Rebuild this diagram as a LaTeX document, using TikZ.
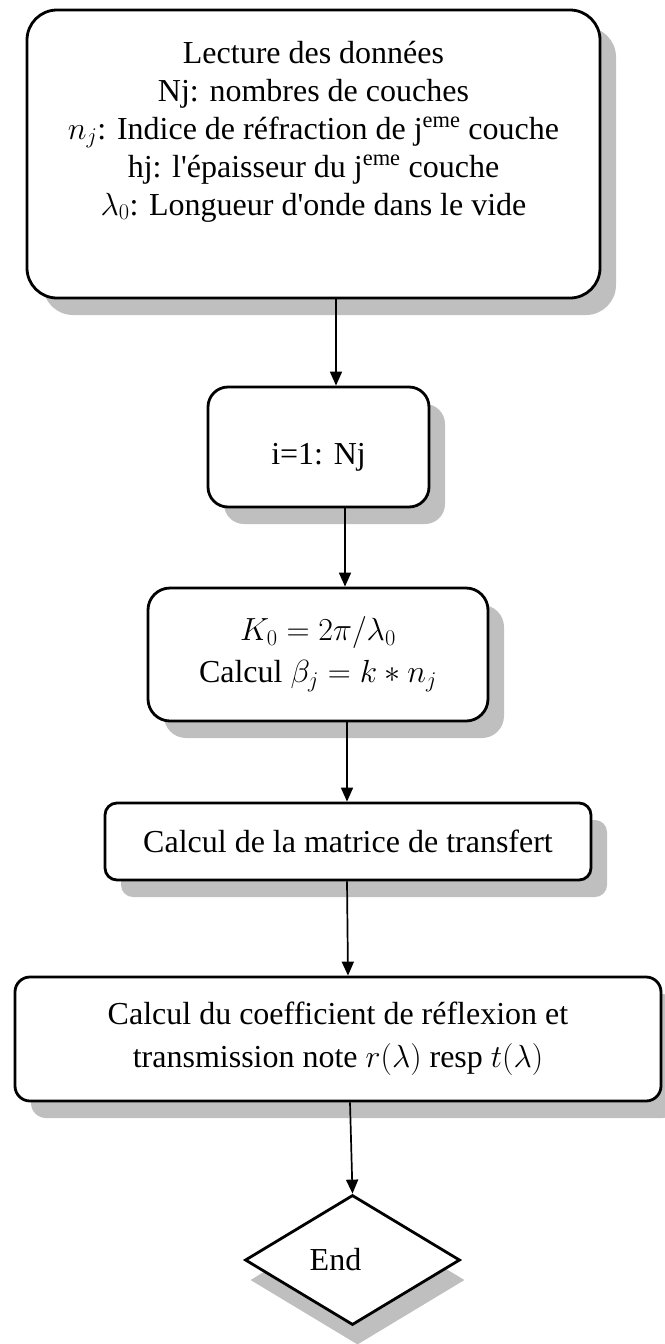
\documentclass[tikz,border=0pt]{standalone}
\usepackage{fix-cm}
\usepackage{fontspec}
\setmainfont{Liberation Serif}
\usetikzlibrary{shapes.geometric, shadows, arrows.meta}

\begin{document}
\begin{tikzpicture}[x = 1pt, y = -1pt,
	box/.style = {draw, line width = 2.8pt, fill = white, align = center,
		font = \fontsize{32}{38}\selectfont},
	boxshade/.style = {box, drop shadow = {shadow xshift = 16pt, shadow yshift = -17pt, fill = black!25, opacity = 1}},
	endshade/.style = {box, drop shadow = {shadow xshift = 5pt, shadow yshift = -20pt, fill = black!25, opacity = 1}},
	flow/.style = {line width = 1.7pt, -{Triangle[length = 14pt, width = 12pt]}}]
		\useasboundingbox (0,0) rectangle (664,1344);

		\node (lecture) at (313.5,154) [boxshade, rounded corners = 30pt, minimum width = 573pt, minimum height = 288pt, text depth = 52pt]
			{Lecture des données\\ Nj: nombres de couches\\ $n_j$: Indice de réfraction de j\textsuperscript{eme} couche\\
			 hj: l\textquotesingle épaisseur du j\textsuperscript{eme} couche\\ $\lambda_0$: Longueur d\textquotesingle onde dans le vide};
		\node (boucle) at (318.5,447) [boxshade, rounded corners = 20pt, minimum width = 221pt, minimum height = 120pt, text height = 42pt] {i=1: Nj};
		\node (calcul) at (318,654.5) [boxshade, rounded corners = 22pt, minimum width = 340pt, minimum height = 133pt]
			{$K_0 = 2\pi/\lambda_0$\\[4pt] Calcul $\beta_j = k * n_j$};
		\node (matrice) at (348,841.5) [boxshade, rounded corners = 12pt, minimum width = 486pt, minimum height = 77pt] {Calcul de la matrice de transfert};
		\node (coeff) at (338,1039) [boxshade, rounded corners = 15pt, minimum width = 646pt, minimum height = 124pt]
			{Calcul du coefficient de réflexion et\\[5pt] transmission note $r(\lambda)$ resp $t(\lambda)$};
		\node (fin) at (352.5,1260) [endshade, diamond, inner sep = 0pt, minimum width = 215pt, minimum height = 130pt] {End\hspace*{34pt}};

		\draw [flow] ([xshift = 22.5pt]lecture.south) -- ([xshift = 17.5pt]boucle.north);
		\draw [flow] ([xshift = 26.5pt]boucle.south) -- ([xshift = 27pt]calcul.north);
		\draw [flow] ([xshift = 29pt]calcul.south) -- ([xshift = -1pt]matrice.north);
		\draw [flow] ([xshift = -1pt]matrice.south) -- ([xshift = 10pt]coeff.north);
		\draw [flow] ([xshift = 12pt]coeff.south) -- (fin.north);
\end{tikzpicture}
\end{document}
